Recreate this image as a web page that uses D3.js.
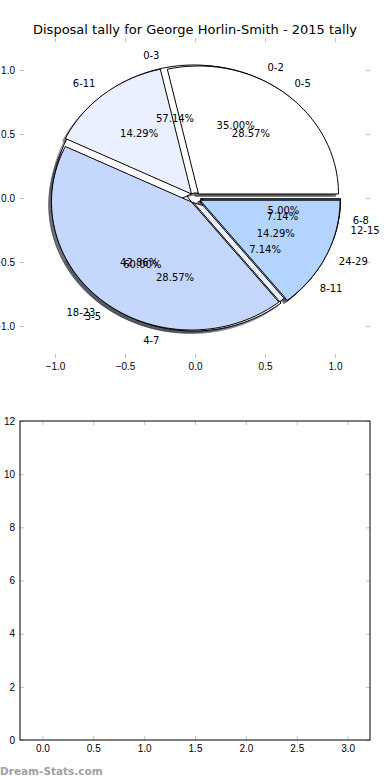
<html>
<head>
<meta charset="utf-8">
<script src="https://d3js.org/d3.v7.min.js"></script>
<style>
body { margin: 0; background: #fff; }
svg { font-family: "DejaVu Sans", sans-serif; }
.tick line { stroke: #c0c0c0; }
.tick text { font-size: 10px; fill: #000; }
.pct, .lbl { font-size: 10px; }
</style>
</head>
<body>
<div id="root"></div>
<script>
// data
var title = "Disposal tally for George Horlin-Smith - 2015 tally";
var pieALabels = ["0-2", "3-5", "6-8"];
var pieACounts = [7, 12, 1];
var pieBLabels = ["0-3", "4-7", "8-11", "12-15"];
var pieBCounts = [8, 4, 1, 1];
var pieCLabels = ["0-5", "6-11", "18-23", "24-29"];
var pieCCounts = [4, 2, 6, 2];
var wedgeColors = ["#ffffff", "#eaf0ff", "#c5d7fc", "#b3d4ff"];
var pieTicks = [-1, -0.5, 0, 0.5, 1];
var barXTicks = [0, 0.5, 1, 1.5, 2, 2.5, 3];
var barYTicks = [0, 2, 4, 6, 8, 10, 12];
var watermark = "Dream-Stats.com";

var W = 390, H = 780;
var explode = 0.04;

var svg = d3.select("#root").append("svg")
  .attr("width", W).attr("height", H);

svg.append("text")
  .attr("x", 195).attr("y", 34)
  .attr("text-anchor", "middle")
  .style("font-size", "13px")
  .text(title);

/* pie axes */
var x = d3.scaleLinear().domain([-1.25, 1.25]).range([20, 370]);
var y = d3.scaleLinear().domain([-1.25, 1.25]).range([358, 38]);
var fmt = d => d3.format(".1f")(d).replace("-", "\u2212");

function tickAxis(axis, tr, labels) {
  var g = svg.append("g").attr("transform", tr)
    .call(axis.tickValues(pieTicks).tickSizeInner(-4).tickSizeOuter(0)
      .tickPadding(labels ? 5 : 0).tickFormat(labels ? fmt : ""));
  g.select(".domain").remove();
  return g;
}
tickAxis(d3.axisBottom(x), "translate(0,358)", true);
tickAxis(d3.axisTop(x), "translate(0,38)", false);
tickAxis(d3.axisLeft(y), "translate(20,0)", true);
tickAxis(d3.axisRight(y), "translate(370,0)", false);

var pies = [
  {labels: pieALabels, counts: pieACounts},
  {labels: pieBLabels, counts: pieBCounts},
  {labels: pieCLabels, counts: pieCCounts}
];

var pie = d3.pie().sort(null);
var wedges = [];
pies.forEach(function(p) {
  var total = d3.sum(p.counts);
  pie(p.counts).forEach(function(a, i) {
    // matplotlib style: counterclockwise from 3 o'clock
    var t0 = a.startAngle, t1 = a.endAngle, mid = (t0 + t1) / 2;
    wedges.push({
      t0: t0, t1: t1, mid: mid,
      ox: explode * Math.cos(mid), oy: explode * Math.sin(mid),
      color: wedgeColors[i],
      label: p.labels[i],
      pct: d3.format(".2f")(100 * a.value / total) + "%"
    });
  });
});

function wedgePath(w, dx, dy) {
  var n = Math.max(8, Math.ceil((w.t1 - w.t0) / 0.02));
  var pts = [[w.ox, w.oy]];
  d3.range(n + 1).forEach(function(k) {
    var t = w.t0 + (w.t1 - w.t0) * k / n;
    pts.push([w.ox + Math.cos(t), w.oy + Math.sin(t)]);
  });
  return d3.line()
    .x(d => x(d[0] + dx))
    .y(d => y(d[1] + dy))(pts) + "Z";
}

function shade(c) {
  var r = d3.rgb(c);
  return d3.rgb(r.r * 0.3, r.g * 0.3, r.b * 0.3).toString();
}

// shadows go under every wedge
svg.append("g").selectAll("path")
  .data(wedges).enter().append("path")
  .attr("d", w => wedgePath(w, -0.02, -0.02))
  .attr("fill", w => shade(w.color))
  .attr("stroke", w => shade(w.color))
  .attr("fill-opacity", 0.5)
  .attr("stroke-opacity", 0.5);

svg.append("g").selectAll("path")
  .data(wedges).enter().append("path")
  .attr("d", w => wedgePath(w, 0, 0))
  .attr("fill", w => w.color)
  .attr("stroke", "#000")
  .attr("stroke-width", 1)
  .attr("stroke-linejoin", "round");

var texts = svg.append("g");
wedges.forEach(function(w) {
  var c = Math.cos(w.mid), s = Math.sin(w.mid);
  texts.append("text").attr("class", "lbl")
    .attr("x", x(w.ox + 1.1 * c)).attr("y", y(w.oy + 1.1 * s))
    .attr("dy", "0.35em")
    .attr("text-anchor", c > 0 ? "start" : "end")
    .text(w.label);
  texts.append("text").attr("class", "pct")
    .attr("x", x(w.ox + 0.6 * c)).attr("y", y(w.oy + 0.6 * s))
    .attr("dy", "0.35em")
    .attr("text-anchor", "middle")
    .text(w.pct);
});

/* empty lower axes */
var bx = d3.scaleLinear().domain([-0.22, 3.22]).range([20, 370]);
var by = d3.scaleLinear().domain([0, 12]).range([740, 421]);

function barAxis(axis, tr, ticks, labels, f) {
  var g = svg.append("g").attr("transform", tr)
    .call(axis.tickValues(ticks).tickSizeInner(-4).tickSizeOuter(0)
      .tickPadding(labels ? 5 : 0).tickFormat(labels ? f : ""));
  g.select(".domain").remove();
}
barAxis(d3.axisBottom(bx), "translate(0,740)", barXTicks, true, d3.format(".1f"));
barAxis(d3.axisTop(bx), "translate(0,421)", barXTicks, false);
barAxis(d3.axisLeft(by), "translate(20,0)", barYTicks, true, d3.format("d"));
barAxis(d3.axisRight(by), "translate(370,0)", barYTicks, false);

svg.append("rect")
  .attr("x", 20).attr("y", 421).attr("width", 350).attr("height", 319)
  .attr("fill", "none").attr("stroke", "#000").attr("stroke-width", 1);

svg.append("text")
  .attr("x", 0).attr("y", 775)
  .style("font-size", "10.5px")
  .style("font-weight", "bold")
  .attr("fill", "#a0a0a0")
  .text(watermark);
</script>
</body>
</html>
